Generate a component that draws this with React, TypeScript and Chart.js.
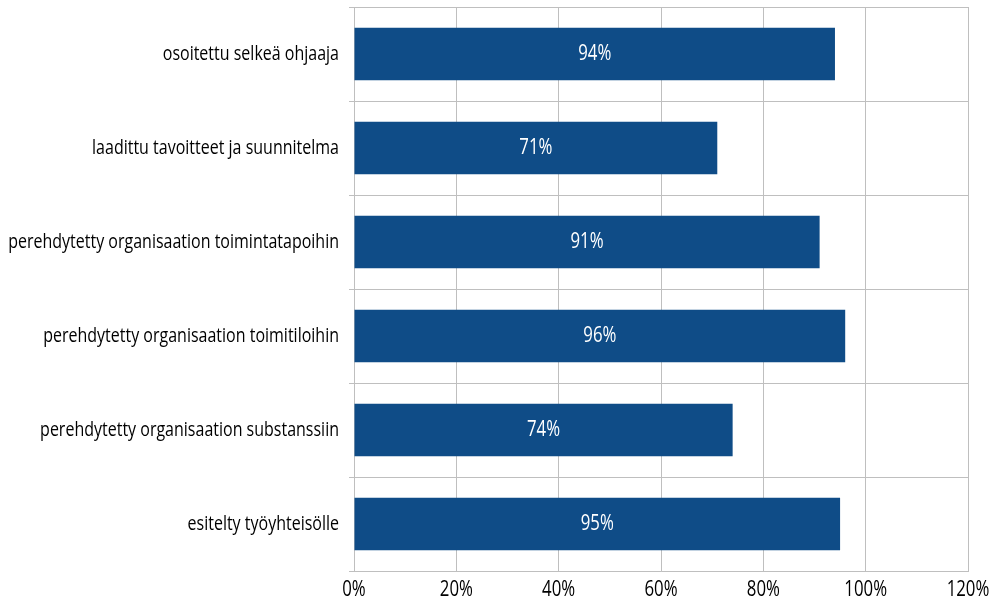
import React, { useEffect, useRef } from "react";
import { Chart, registerables } from "chart.js";

Chart.register(...registerables);

const categories = [
  "osoitettu selkeä ohjaaja",
  "laadittu tavoitteet ja suunnitelma",
  "perehdytetty organisaation toimintatapoihin",
  "perehdytetty organisaation toimitiloihin",
  "perehdytetty organisaation substanssiin",
  "esitelty työyhteisölle",
];
const values = [94, 71, 91, 96, 74, 95];
const xTicks = [0, 20, 40, 60, 80, 100, 120];

const FONT = "'Open Sans', sans-serif";
const SQUEEZE = 0.8;

function drawCondensed(ctx: any, text: string, x: number, y: number, align: "left" | "right" | "center") {
  ctx.save();
  ctx.translate(x, y);
  ctx.scale(SQUEEZE, 1);
  ctx.textAlign = align;
  ctx.textBaseline = "middle";
  ctx.fillText(text, 0, 0);
  ctx.restore();
}

const textPlugin = {
  id: "condensedText",
  afterDraw(chart: any) {
    const ctx = chart.ctx;
    const meta = chart.getDatasetMeta(0);
    const xs = chart.scales.x;
    const ys = chart.scales.y;
    ctx.save();
    // bar value labels
    ctx.fillStyle = "#ffffff";
    ctx.font = `21px ${FONT}`;
    meta.data.forEach((bar: any, i: number) => {
      drawCondensed(ctx, values[i] + "%", (bar.x + bar.base) / 2, bar.y, "center");
    });
    // y category labels
    ctx.fillStyle = "#000000";
    ctx.font = `20px ${FONT}`;
    categories.forEach((c, i) => {
      drawCondensed(ctx, c, ys.left + ys.width - 15, ys.getPixelForValue(i), "right");
    });
    // x tick labels
    ctx.font = `21px ${FONT}`;
    xTicks.forEach((v) => {
      drawCondensed(ctx, v + "%", xs.getPixelForValue(v), xs.top + 19, "center");
    });
    ctx.restore();
  },
};

export default function App() {
  const ref = useRef<HTMLCanvasElement>(null);
  useEffect(() => {
    document.body.style.margin = "0";
    const chart = new Chart(ref.current!, {
      type: "bar",
      data: {
        labels: categories,
        datasets: [
          {
            data: values,
            backgroundColor: "#0f4c87",
            categoryPercentage: 1,
            barPercentage: 0.56,
          },
        ],
      },
      options: {
        indexAxis: "y",
        animation: false,
        responsive: false,
        maintainAspectRatio: false,
        layout: { padding: { top: 7, right: 24, left: 0, bottom: 0 } },
        plugins: { legend: { display: false }, tooltip: { enabled: false } },
        scales: {
          x: {
            min: 0,
            max: 120,
            afterBuildTicks(scale: any) {
              scale.ticks = xTicks.map((v) => ({ value: v }));
            },
            afterFit(scale: any) {
              scale.height = 35;
              scale.paddingLeft = 0;
              scale.paddingRight = 0;
            },
            grid: { color: "#bfbfbf", lineWidth: 1, drawTicks: false },
            border: { color: "#bfbfbf", width: 1 },
            ticks: {
              padding: 9,
              color: "rgba(0,0,0,0)",
              font: { family: FONT, size: 19 },
              callback: (v: any) => v + "%",
            },
          },
          y: {
            afterFit(scale: any) {
              scale.width = 354;
              scale.paddingTop = 0;
              scale.paddingBottom = 0;
            },
            grid: { color: "#bfbfbf", lineWidth: 1, offset: true, tickLength: 5 },
            border: { color: "#bfbfbf", width: 1 },
            ticks: {
              padding: 10,
              color: "rgba(0,0,0,0)",
              font: { family: FONT, size: 19 },
            },
          },
        },
      },
      plugins: [textPlugin],
    });
    return () => chart.destroy();
  }, []);
  return (
    <div style={{ width: 992, height: 606 }}>
      <canvas ref={ref} width={992} height={606} style={{ display: "block" }} />
    </div>
  );
}
